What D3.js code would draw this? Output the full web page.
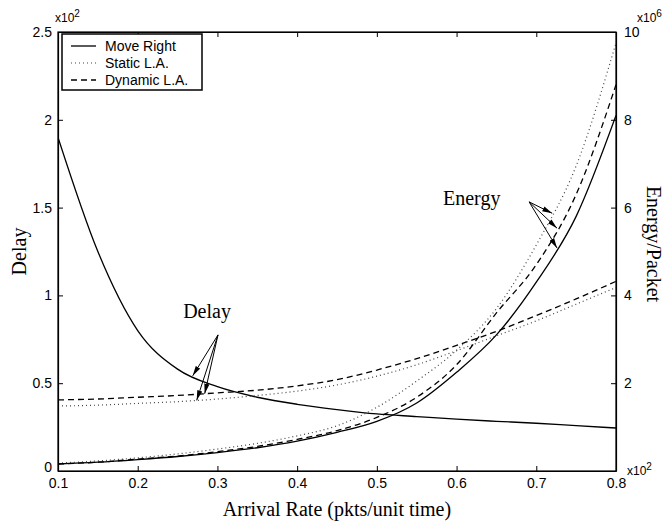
<!DOCTYPE html>
<html lang="en">
<head>
<meta charset="utf-8">
<title>Delay and Energy vs Arrival Rate</title>
<script src="https://cdn.jsdelivr.net/npm/d3@7"></script>
<style>
  body { margin: 0; background: #fff; }
  svg { display: block; }
  .tick text, .legend text, .mult { font-family: Helvetica, Arial, "Liberation Sans", sans-serif; }
  .title { font-family: "Times New Roman", "Liberation Serif", serif; font-size: 20px; }
</style>
</head>
<body>
<svg id="chart"></svg>
<script>
// arrival rate (x 10^2 pkts/unit time)
var arrivalRate = [0.10, 0.15, 0.20, 0.25, 0.30, 0.35, 0.40, 0.45, 0.50, 0.55, 0.60, 0.65, 0.70, 0.75, 0.80];

// delay (x 10^2), left axis
var delayMoveRight = [1.90, 1.25, 0.80, 0.58, 0.48, 0.42, 0.38, 0.35, 0.325, 0.31, 0.295, 0.283, 0.272, 0.258, 0.245];
var delayStatic    = [0.37, 0.375, 0.385, 0.395, 0.41, 0.43, 0.455, 0.49, 0.54, 0.605, 0.685, 0.77, 0.855, 0.95, 1.045];
var delayDynamic   = [0.405, 0.41, 0.42, 0.43, 0.445, 0.46, 0.485, 0.52, 0.575, 0.64, 0.715, 0.795, 0.885, 0.98, 1.08];

// energy per packet (x 10^6), right axis
var energyMoveRight = [0.16, 0.20, 0.26, 0.33, 0.42, 0.53, 0.68, 0.88, 1.13, 1.55, 2.25, 3.10, 4.30, 5.80, 8.10];
var energyStatic    = [0.18, 0.23, 0.30, 0.39, 0.50, 0.63, 0.80, 1.03, 1.45, 2.05, 2.75, 3.70, 5.15, 6.95, 9.75];
var energyDynamic   = [0.16, 0.20, 0.27, 0.34, 0.44, 0.56, 0.72, 0.92, 1.22, 1.68, 2.42, 3.60, 4.70, 6.30, 8.80];

var rateTicks = [0.1, 0.2, 0.3, 0.4, 0.5, 0.6, 0.7, 0.8];
var delayTicks = [0, 0.5, 1, 1.5, 2, 2.5];
var energyTicks = [2, 4, 6, 8, 10];

var seriesNames = ["Move Right", "Static L.A.", "Dynamic L.A."];

// where the annotation arrows land (arrival rate)
var delayArrowRates = [0.269, 0.274, 0.284];
var energyArrowRates = [0.726, 0.720, 0.726];

var width = 666, height = 523;
var margin = {top: 32, right: 50, bottom: 52, left: 58};

var svg = d3.select("#chart").attr("width", width).attr("height", height);

var x = d3.scaleLinear().domain([0.1, 0.8]).range([margin.left, width - margin.right]);
var yDelay = d3.scaleLinear().domain([0, 2.5]).range([height - margin.bottom, margin.top]);
var yEnergy = d3.scaleLinear().domain([0, 10]).range([height - margin.bottom, margin.top]);

var styles = {
  "Move Right":   {dash: null,  color: "#000", w: 1.3},
  "Static L.A.":  {dash: "1,3", color: "#444", w: 1.2},
  "Dynamic L.A.": {dash: "6,4", color: "#000", w: 1.3}
};

var delaySeries = [delayMoveRight, delayStatic, delayDynamic];
var energySeries = [energyMoveRight, energyStatic, energyDynamic];

var defs = svg.append("defs");
defs.append("clipPath").attr("id", "plotclip")
  .append("rect")
  .attr("x", x.range()[0]).attr("y", yDelay.range()[1])
  .attr("width", x.range()[1] - x.range()[0])
  .attr("height", yDelay.range()[0] - yDelay.range()[1]);
defs.append("marker")
  .attr("id", "arrow")
  .attr("viewBox", "0 -3 10 6")
  .attr("refX", 10).attr("refY", 0)
  .attr("markerUnits", "userSpaceOnUse")
  .attr("markerWidth", 10).attr("markerHeight", 6)
  .attr("orient", "auto")
  .append("path").attr("d", "M0,-2.6L10,0L0,2.6Z").attr("fill", "#000");

function lineFor(yScale) {
  return d3.line()
    .x(function (d) { return x(d[0]); })
    .y(function (d) { return yScale(d[1]); })
    .curve(d3.curveMonotoneX);
}

var plot = svg.append("g").attr("clip-path", "url(#plotclip)");

function drawSeries(list, yScale) {
  list.forEach(function (vals, i) {
    var st = styles[seriesNames[i]];
    plot.append("path")
      .datum(arrivalRate.map(function (r, j) { return [r, vals[j]]; }))
      .attr("fill", "none")
      .attr("stroke", st.color)
      .attr("stroke-width", st.w)
      .attr("stroke-dasharray", st.dash)
      .attr("d", lineFor(yScale));
  });
}
drawSeries(delaySeries, yDelay);
drawSeries(energySeries, yEnergy);

// axes (matlab style: ticks inside, box)
var x0 = x.range()[0], x1 = x.range()[1], yb = yDelay.range()[0], yt = yDelay.range()[1];

svg.append("g").attr("transform", "translate(0," + yb + ")")
  .call(d3.axisBottom(x).tickValues(rateTicks).tickSizeInner(-5).tickSizeOuter(0).tickPadding(7)
    .tickFormat(d3.format(".1f")));
svg.append("g").attr("transform", "translate(0," + yt + ")")
  .call(d3.axisTop(x).tickValues(rateTicks).tickSizeInner(-5).tickSizeOuter(0).tickFormat(""));
var leftAxis = svg.append("g").attr("transform", "translate(" + x0 + ",0)")
  .call(d3.axisLeft(yDelay).tickValues(delayTicks).tickSizeInner(-5).tickSizeOuter(0).tickPadding(6)
    .tickFormat(function (d) { return d3.format("")(d); }));
svg.append("g").attr("transform", "translate(" + x1 + ",0)")
  .call(d3.axisRight(yEnergy).tickValues(energyTicks).tickSizeInner(-5).tickSizeOuter(0).tickPadding(8));

svg.selectAll(".tick text").attr("font-size", 14).attr("fill", "#000");
svg.selectAll(".tick line").attr("stroke", "#000");
svg.selectAll(".domain").attr("stroke", "#000").attr("stroke-width", 1.2);
// matlab nudges the bottom "0" up so it clears the x labels
leftAxis.selectAll(".tick").filter(function (d) { return d === 0; })
  .select("text").attr("dy", "0.05em");

// box
svg.append("rect")
  .attr("x", x0).attr("y", yt).attr("width", x1 - x0).attr("height", yb - yt)
  .attr("fill", "none").attr("stroke", "#000").attr("stroke-width", 1.2);

// exponent labels
function mult(px, py, exp) {
  var t = svg.append("text").attr("class", "mult").attr("x", px).attr("y", py).attr("font-size", 12);
  t.append("tspan").text("x10");
  t.append("tspan").attr("dy", -5).attr("font-size", 10).text(exp);
}
mult(55, 22, "2");
mult(637, 22, "6");
mult(627, 475, "2");

// axis titles
svg.append("text").attr("class", "title")
  .attr("x", (x0 + x1) / 2).attr("y", 516).attr("text-anchor", "middle")
  .text("Arrival Rate (pkts/unit time)");
svg.append("text").attr("class", "title")
  .attr("transform", "translate(26," + (yt + yb) / 2 + ") rotate(-90)")
  .attr("text-anchor", "middle").text("Delay");
svg.append("text").attr("class", "title")
  .attr("transform", "translate(647,244) rotate(90)")
  .attr("text-anchor", "middle").text("Energy/Packet");

// annotations
function interp(vals) {
  return d3.scaleLinear().domain(arrivalRate).range(vals);
}
var delayLabel = {rate: 0.287, value: 0.87, fromRate: 0.3007, fromValue: 0.775};
svg.append("text").attr("class", "title")
  .attr("x", x(delayLabel.rate)).attr("y", yDelay(delayLabel.value)).attr("text-anchor", "middle")
  .text("Delay");
delayArrowRates.forEach(function (r, i) {
  svg.append("line")
    .attr("x1", x(delayLabel.fromRate)).attr("y1", yDelay(delayLabel.fromValue))
    .attr("x2", x(r)).attr("y2", yDelay(interp(delaySeries[i])(r)))
    .attr("stroke", "#000").attr("stroke-width", 1)
    .attr("marker-end", "url(#arrow)");
});

var energyLabel = {rate: 0.619, value: 6.06, fromRate: 0.691, fromValue: 6.13};
svg.append("text").attr("class", "title")
  .attr("x", x(energyLabel.rate)).attr("y", yEnergy(energyLabel.value)).attr("text-anchor", "middle")
  .text("Energy");
energyArrowRates.forEach(function (r, i) {
  svg.append("line")
    .attr("x1", x(energyLabel.fromRate)).attr("y1", yEnergy(energyLabel.fromValue))
    .attr("x2", x(r)).attr("y2", yEnergy(interp(energySeries[i])(r)))
    .attr("stroke", "#000").attr("stroke-width", 1)
    .attr("marker-end", "url(#arrow)");
});

// legend
var legend = svg.append("g").attr("class", "legend").attr("transform", "translate(62,34)");
legend.append("rect").attr("width", 140).attr("height", 56)
  .attr("fill", "#fff").attr("stroke", "#000").attr("stroke-width", 1.5);
seriesNames.forEach(function (name, i) {
  var st = styles[name];
  var ly = 12 + i * 17;
  legend.append("line")
    .attr("x1", 9).attr("x2", 34).attr("y1", ly).attr("y2", ly)
    .attr("stroke", st.color).attr("stroke-width", st.w)
    .attr("stroke-dasharray", st.dash);
  legend.append("text").attr("x", 43).attr("y", ly).attr("dy", "0.35em")
    .attr("font-size", 14).text(name);
});
</script>
</body>
</html>
